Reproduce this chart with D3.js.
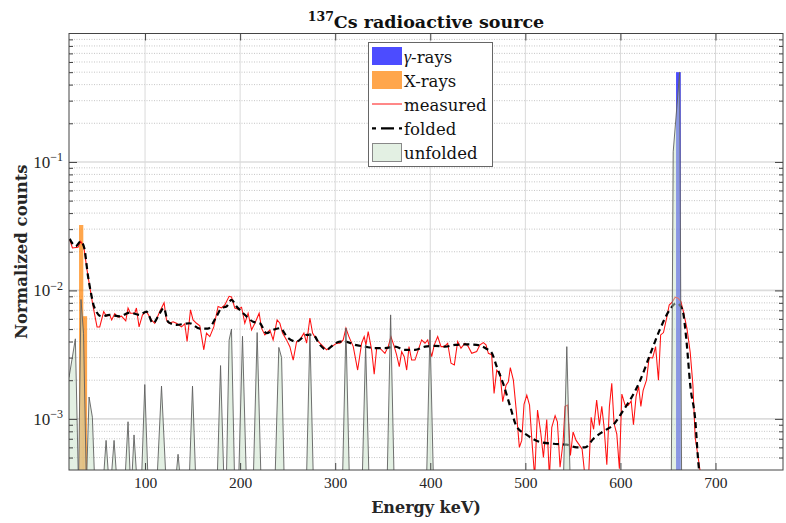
<!DOCTYPE html>
<html><head><meta charset="utf-8">
<script src="https://cdn.jsdelivr.net/npm/d3@7"></script>
<style>body{margin:0;background:#fff}svg{display:block}</style>
</head><body><svg id="c" width="786" height="523"></svg>
<script>
// ---------------- data ----------------
const xDomain = [20, 771];
const yDomain = [4e-4, 1];
const xTicks = [100, 200, 300, 400, 500, 600, 700];
const yMajorTicks = [1e-3, 1e-2, 1e-1];
const yTickExponents = ["\u22123", "\u22122", "\u22121"];
const gammaRays = [{E: 661, v: 0.5, w: 5}];
const xRays = [{E: 36.8, v: 0.0063, w: 4.5}, {E: 32.8, v: 0.0323, w: 4.5}];
const measured = [[20.7,2.49e-2],[23.6,2.14e-2],[29.5,2.17e-2],[32.3,2.41e-2],[35.5,2.21e-2],[38.9,1.45e-2],[41.8,1.07e-2],[45.3,7.5e-3],[49.5,5.2e-3],[52.3,5.2e-3],[56.5,6.85e-3],[59.4,6.3e-3],[62.8,6.45e-3],[64.9,5.9e-3],[68.1,6.6e-3],[71.6,6.2e-3],[75.2,6.3e-3],[79.7,5.8e-3],[82.1,7.3e-3],[84.6,6.65e-3],[89.2,6.65e-3],[90.9,7.3e-3],[93.7,5.2e-3],[97.3,6.45e-3],[101.5,6.85e-3],[106.7,5.9e-3],[110.2,5.55e-3],[115.5,6.85e-3],[120,8.0e-3],[122.5,5.9e-3],[125.3,5.55e-3],[129.5,5.7e-3],[133,5.55e-3],[138.3,5.2e-3],[141.8,5.5e-3],[144.2,4.0e-3],[147.8,7.05e-3],[150.5,5.9e-3],[154.1,5.55e-3],[157.6,5.3e-3],[161.8,3.45e-3],[164.6,4.65e-3],[168.1,4.37e-3],[172.3,5.2e-3],[176.8,7.5e-3],[180.4,7.3e-3],[183.9,7.7e-3],[188.4,9.0e-3],[190.9,8.9e-3],[194.4,7.3e-3],[197.9,7.15e-3],[201.5,7.4e-3],[204.9,5.55e-3],[208.4,6.65e-3],[212,4.93e-3],[215.5,5.55e-3],[220,6.65e-3],[222.5,5.08e-3],[226,4.5e-3],[231.3,4.93e-3],[234.7,4.12e-3],[238.9,5.9e-3],[241.8,5.55e-3],[244.6,4.65e-3],[248.8,4.12e-3],[252.3,3.65e-3],[255.8,2.87e-3],[259.4,4.0e-3],[262.8,4.12e-3],[267.1,4.65e-3],[269.9,3.88e-3],[273.4,6.1e-3],[276.2,4.65e-3],[280.4,4.12e-3],[285.7,3.77e-3],[291,3.45e-3],[296.2,3.65e-3],[301.5,3.88e-3],[305,3.88e-3],[308.4,4.12e-3],[311.3,5.08e-3],[314.4,4.37e-3],[319,3.65e-3],[323.6,2.4e-3],[327.8,3.88e-3],[330.5,4.37e-3],[332.3,3.77e-3],[334.7,4.78e-3],[338.3,3.45e-3],[341,2.23e-3],[343.6,3.55e-3],[347,3.55e-3],[352.3,3.24e-3],[355.8,3.65e-3],[358.6,4.37e-3],[362.1,3.65e-3],[364.6,3.15e-3],[367.4,2.55e-3],[369.9,3.34e-3],[372.6,3.05e-3],[375.2,2.4e-3],[377.6,3.65e-3],[380.4,2.87e-3],[383.9,2.87e-3],[387.4,3.45e-3],[390.9,4.12e-3],[394.4,3.88e-3],[397.3,4.12e-3],[401.5,3.05e-3],[404.2,3.77e-3],[407.8,4.37e-3],[411.3,3.65e-3],[414.7,3.65e-3],[418.3,3.88e-3],[421.8,2.71e-3],[425.3,2.63e-3],[428.8,4.0e-3],[432.3,3.55e-3],[436.5,3.88e-3],[440,3.65e-3],[443.6,3.24e-3],[448.8,3.34e-3],[452.3,3.77e-3],[455.8,3.92e-3],[458.6,3.77e-3],[461.1,3.24e-3],[464.6,3.15e-3],[467.1,1.58e-3],[469.9,2.4e-3],[473.4,2.26e-3],[476.2,1.36e-3],[479.7,1.83e-3],[482.1,1.94e-3],[484.2,2.51e-3],[487.4,2.0e-3],[490.5,1.15e-3],[493.7,6.0e-4],[496.2,6.8e-4],[498.6,1.3e-3],[501.5,1.53e-3],[504.4,1.28e-3],[507,6.6e-4],[509.8,3.5e-4],[512.8,1.17e-3],[516.2,7.8e-4],[519,5.0e-4],[522.5,9.9e-4],[525.3,3.5e-4],[527.8,8.6e-4],[531.3,1.06e-3],[533.7,9.5e-4],[536.5,4.2e-4],[539.7,6.6e-4],[541.8,1.25e-3],[544.4,1.28e-3],[547.4,5.2e-4],[550.2,7.9e-4],[553.4,6.8e-4],[556.5,6.3e-4],[559.7,5.8e-4],[562.8,3.5e-4],[566.5,3.5e-4],[569.2,1.03e-3],[571.8,8.3e-4],[575,1.4e-3],[577.9,8.9e-4],[580.4,1.25e-3],[582.8,8.6e-4],[585.7,4.4e-4],[588.4,1.25e-3],[590.9,1.89e-3],[593.3,9.2e-4],[596.2,7.6e-4],[598.9,4.1e-4],[601.5,1.56e-3],[604.9,1.28e-3],[608.4,1.28e-3],[611.3,1.38e-3],[613.7,9.0e-4],[616.5,1.5e-3],[619.2,1.78e-3],[621.5,1.25e-3],[623.9,1.67e-3],[627.4,2.0e-3],[630.2,3.0e-3],[633.9,2.98e-3],[637,3.65e-3],[640,2.0e-3],[642.3,4.5e-3],[645.3,4.7e-3],[648.8,6.2e-3],[651.3,7.7e-3],[654.4,8.1e-3],[657.6,8.85e-3],[660.7,8.7e-3],[663.6,8.2e-3],[666.3,6.8e-3],[669.9,5.1e-3],[673.4,3.3e-3],[676.2,1.85e-3],[678.6,7.2e-4],[681.1,5.4e-4],[683.9,3.9e-4],[687,2e-4]];
const folded = [[20.7,2.52e-2],[27,2.21e-2],[32.3,2.41e-2],[36,2.15e-2],[40,1.29e-2],[42.8,9.8e-3],[46.3,7.5e-3],[54.1,6.27e-3],[62.8,6.45e-3],[73.4,6.27e-3],[83.9,6.73e-3],[94.4,6.45e-3],[101.5,6.85e-3],[108.4,5.55e-3],[115.5,6.65e-3],[119.7,7.3e-3],[124.2,5.7e-3],[133,5.4e-3],[147,5.55e-3],[157.6,5.05e-3],[166.3,5.05e-3],[175.2,6.27e-3],[180.4,7.3e-3],[185.7,7.5e-3],[190.9,8.45e-3],[196.2,7.5e-3],[203.2,6.65e-3],[213.7,5.7e-3],[220.7,5.55e-3],[227.8,4.65e-3],[234.7,4.93e-3],[241.8,5.08e-3],[250.5,4.25e-3],[259.4,4.0e-3],[269.9,4.5e-3],[276.8,4.5e-3],[283.9,3.77e-3],[291,3.45e-3],[297.9,3.77e-3],[305,4.0e-3],[310.2,4.0e-3],[320.7,3.77e-3],[331.3,3.65e-3],[341.8,3.55e-3],[352.3,3.55e-3],[362.8,3.65e-3],[373.4,3.45e-3],[383.9,3.45e-3],[394.4,3.65e-3],[404.9,3.7e-3],[415.5,3.65e-3],[426,3.77e-3],[436.5,3.8e-3],[448.8,3.77e-3],[459.4,3.5e-3],[464.6,3.27e-3],[469.9,2.55e-3],[476.8,1.87e-3],[483.9,1.26e-3],[490.9,8.7e-4],[501.5,7.5e-4],[515.5,6.6e-4],[529.5,6.4e-4],[543.6,6.3e-4],[554.1,6.0e-4],[562.8,6.0e-4],[571.6,7.0e-4],[582.1,8.0e-4],[592.6,9.0e-4],[603.2,1.17e-3],[612,1.48e-3],[620.2,1.95e-3],[630.7,3.1e-3],[641.3,4.93e-3],[651.8,7.05e-3],[658.8,7.95e-3],[662.3,7.7e-3],[665.8,6.8e-3],[669.4,4.1e-3],[673.6,1.78e-3],[678.6,1.0e-3],[682.1,4.45e-4],[684,3.4e-4]];
const unfolded = [[20,2.1e-3],[26.7,4.2e-3],[30,3e-4],[32.6,8.5e-3],[35.3,4.6e-3],[38.3,3e-4],[41.1,1.48e-3],[44.6,1.03e-3],[48,2e-4],[55,2.5e-4],[59,6.8e-4],[63,2.5e-4],[67.4,6.8e-4],[71.5,2.5e-4],[78,2.5e-4],[82.1,9.5e-4],[85.2,2.5e-4],[88.4,7.5e-4],[92.5,2.5e-4],[95.7,2.5e-4],[99.7,1.85e-3],[103.7,2.5e-4],[112.3,3e-4],[117.3,1.8e-3],[122.3,3e-4],[130.7,2.5e-4],[134.7,5.3e-4],[138.7,2.5e-4],[145.9,2.5e-4],[149.9,1.8e-3],[153.9,2.5e-4],[175.4,2.5e-4],[179.4,2.6e-3],[183.4,2.5e-4],[185.2,2.5e-4],[188.4,4.1e-3],[190.9,5e-3],[194.5,2.5e-4],[198,2.5e-4],[202.5,4.4e-3],[207,2.5e-4],[213.4,2.5e-4],[217.9,4.7e-3],[222.4,2.5e-4],[236.2,2.5e-4],[240.7,3.6e-3],[243.6,3.0e-3],[246.7,2.5e-4],[269.4,2.5e-4],[273.4,4.65e-3],[277.4,2.5e-4],[307.3,2.5e-4],[311.3,5.1e-3],[315.3,2.5e-4],[328,2.5e-4],[332,3.77e-3],[336,2.5e-4],[354.3,2.5e-4],[358.3,6.45e-3],[362.3,2.5e-4],[395.7,2.5e-4],[399.7,4.93e-3],[403.7,2.5e-4],[539.6,2.5e-4],[543.6,3.65e-3],[547.6,2.5e-4],[651.5,1e-6],[655.5,0.12],[662.3,0.5],[666,1e-6],[771,1e-6]];
const legendLabels = ["rays", "X-rays", "measured", "folded", "unfolded"];
const titleMain = "Cs radioactive source", titleSup = "137";

// ---------------- drawing ----------------
const svg = d3.select("#c");
const L = 69, R = 783, T = 33.5, B = 470;
const x = d3.scaleLinear().domain(xDomain).range([L, R]);
const y = d3.scaleLog().domain(yDomain).range([B, T]);
const serif = "'DejaVu Serif', serif";
const tickFont = "'Liberation Serif', 'DejaVu Serif', serif";

svg.append("defs").append("clipPath").attr("id", "clip")
  .append("rect").attr("x", L).attr("y", T).attr("width", R - L).attr("height", B - T);

svg.append("rect").attr("x", L).attr("y", T).attr("width", R - L).attr("height", B - T).attr("fill", "#fff");

// minor y ticks (2..9 per decade)
const yMinor = [];
for (let e = -4; e <= -1; e++) for (let k = 2; k <= 9; k++) { const v = k * Math.pow(10, e); if (v > yDomain[0] && v < yDomain[1]) yMinor.push(v); }

const grid = svg.append("g");
grid.selectAll("line.mn").data(yMinor).join("line")
  .attr("x1", L).attr("x2", R).attr("y1", d => y(d)).attr("y2", d => y(d))
  .attr("stroke", "#b8b8b8").attr("stroke-width", 0.8).attr("stroke-dasharray", "1,1.5");
grid.selectAll("line.mj").data(yMajorTicks).join("line")
  .attr("x1", L).attr("x2", R).attr("y1", d => y(d)).attr("y2", d => y(d))
  .attr("stroke", "#dcdcdc").attr("stroke-width", 1.6);
grid.selectAll("line.vx").data(xTicks).join("line")
  .attr("x1", d => x(d)).attr("x2", d => x(d)).attr("y1", T).attr("y2", B)
  .attr("stroke", "#dadada").attr("stroke-width", 1);

const plot = svg.append("g").attr("clip-path", "url(#clip)");

// gamma-ray bars
plot.selectAll("rect.g").data(gammaRays).join("rect")
  .attr("x", d => x(d.E - d.w / 2)).attr("width", d => x(d.E + d.w / 2) - x(d.E - d.w / 2))
  .attr("y", d => y(d.v)).attr("height", d => B - y(d.v))
  .attr("fill", "rgb(0,0,255)").attr("fill-opacity", 0.7);
// X-ray bars
plot.selectAll("rect.x").data(xRays).join("rect")
  .attr("x", d => x(d.E - d.w / 2)).attr("width", d => x(d.E + d.w / 2) - x(d.E - d.w / 2))
  .attr("y", d => y(d.v)).attr("height", d => B - y(d.v))
  .attr("fill", "rgb(255,128,0)").attr("fill-opacity", 0.7);

const line = d3.line().x(d => x(d[0])).y(d => y(d[1]));
plot.append("path").datum(measured).attr("d", line)
  .attr("fill", "none").attr("stroke", "#ff1010").attr("stroke-width", 1.05);
plot.append("path").datum(folded).attr("d", d3.line().x(d => x(d[0])).y(d => y(d[1])).curve(d3.curveMonotoneX))
  .attr("fill", "none").attr("stroke", "#000").attr("stroke-width", 2.2).attr("stroke-dasharray", "6,4");

const areaU = d3.area().x(d => x(d[0])).y0(B + 2).y1(d => y(d[1]));
plot.append("path").datum(unfolded).attr("d", areaU)
  .attr("fill", "rgb(200,225,200)").attr("fill-opacity", 0.5);
plot.append("path").datum(unfolded).attr("d", line)
  .attr("fill", "none").attr("stroke", "#606060").attr("stroke-width", 0.9);

// axes
const axCol = "#444";
function styleAxis(g) { g.select(".domain").remove(); g.selectAll("line").attr("stroke", axCol); }
svg.append("g").attr("transform", `translate(0,${B})`)
  .call(d3.axisBottom(x).tickValues(xTicks).tickSizeInner(-7).tickSizeOuter(0).tickPadding(7))
  .call(styleAxis)
  .call(g => g.selectAll("text").attr("font-family", tickFont).attr("font-size", 15.5).attr("fill", "#262626"));
svg.append("g").attr("transform", `translate(0,${T})`)
  .call(d3.axisTop(x).tickValues(xTicks).tickSizeInner(-7).tickSizeOuter(0).tickFormat(""))
  .call(styleAxis);
const yl = svg.append("g").attr("transform", `translate(${L},0)`)
  .call(d3.axisLeft(y).tickValues(yMajorTicks).tickSizeInner(-8).tickSizeOuter(0).tickPadding(6).tickFormat(() => ""))
  .call(styleAxis);
yl.selectAll(".tick text").each(function(d, i) {
  const t = d3.select(this).attr("font-family", tickFont).attr("font-size", 17).attr("fill", "#262626").attr("dy", "0.32em");
  t.append("tspan").text("10");
  t.append("tspan").attr("dy", "-0.55em").attr("font-size", 12).text(yTickExponents[i]);
});
svg.append("g").attr("transform", `translate(${L},0)`)
  .call(d3.axisLeft(y).tickValues(yMinor).tickSizeInner(-4).tickSizeOuter(0).tickFormat(""))
  .call(styleAxis);
svg.append("g").attr("transform", `translate(${R},0)`)
  .call(d3.axisRight(y).tickValues(yMajorTicks).tickSizeInner(-8).tickSizeOuter(0).tickFormat(""))
  .call(styleAxis);
svg.append("g").attr("transform", `translate(${R},0)`)
  .call(d3.axisRight(y).tickValues(yMinor).tickSizeInner(-4).tickSizeOuter(0).tickFormat(""))
  .call(styleAxis);
svg.append("rect").attr("x", L).attr("y", T).attr("width", R - L).attr("height", B - T)
  .attr("fill", "none").attr("stroke", axCol).attr("stroke-width", 1);

// title
const title = svg.append("text").attr("x", (L + R) / 2).attr("y", 28).attr("text-anchor", "middle")
  .attr("font-family", serif).attr("font-weight", "bold").attr("font-size", 17.5).attr("fill", "#111");
title.append("tspan").attr("font-size", 12.5).attr("dy", "-7").text(titleSup);
title.append("tspan").attr("dy", "7").text(titleMain);

// axis labels
svg.append("text").attr("x", (L + R) / 2).attr("y", 513).attr("text-anchor", "middle")
  .attr("font-family", serif).attr("font-weight", "bold").attr("font-size", 16).attr("fill", "#262626")
  .text("Energy keV)");
svg.append("text").attr("transform", `translate(27,${(T + B) / 2}) rotate(-90)`).attr("text-anchor", "middle")
  .attr("font-family", serif).attr("font-weight", "bold").attr("font-size", 16.5).attr("fill", "#262626")
  .text("Normalized counts");

// legend
const lg = svg.append("g");
lg.append("rect").attr("x", 368.5).attr("y", 42.5).attr("width", 124).attr("height", 124)
  .attr("fill", "#fff").attr("stroke", "#666").attr("stroke-width", 1);
const rows = [56, 80, 104, 128.3, 152.5];
const px0 = 372, px1 = 402;
lg.append("rect").attr("x", px0).attr("y", rows[0] - 9).attr("width", 30).attr("height", 18)
  .attr("fill", "rgb(0,0,255)").attr("fill-opacity", 0.7);
lg.append("rect").attr("x", px0).attr("y", rows[1] - 9).attr("width", 30).attr("height", 18)
  .attr("fill", "rgb(255,128,0)").attr("fill-opacity", 0.7);
lg.append("line").attr("x1", px0).attr("x2", px1).attr("y1", rows[2]).attr("y2", rows[2])
  .attr("stroke", "#ff1010").attr("stroke-width", 1);
lg.append("line").attr("x1", px0).attr("x2", px1).attr("y1", rows[3]).attr("y2", rows[3])
  .attr("stroke", "#000").attr("stroke-width", 2.2).attr("stroke-dasharray", "4,5,9,0");
lg.append("rect").attr("x", px0 + 0.5).attr("y", rows[4] - 9).attr("width", 29).attr("height", 18)
  .attr("fill", "rgb(200,225,200)").attr("fill-opacity", 0.5).attr("stroke", "#888").attr("stroke-width", 1);
rows.forEach((ry, i) => {
  const t = lg.append("text").attr("x", 404).attr("y", ry + 6.5).attr("font-family", serif)
    .attr("font-size", 16.5).attr("fill", "#111");
  if (i === 0) {
    t.append("tspan").attr("font-style", "italic").attr("font-family", tickFont).attr("font-size", 18).text("\u03b3");
    t.append("tspan").text("-" + legendLabels[0]);
  } else t.text(legendLabels[i]);
});
</script></body></html>
